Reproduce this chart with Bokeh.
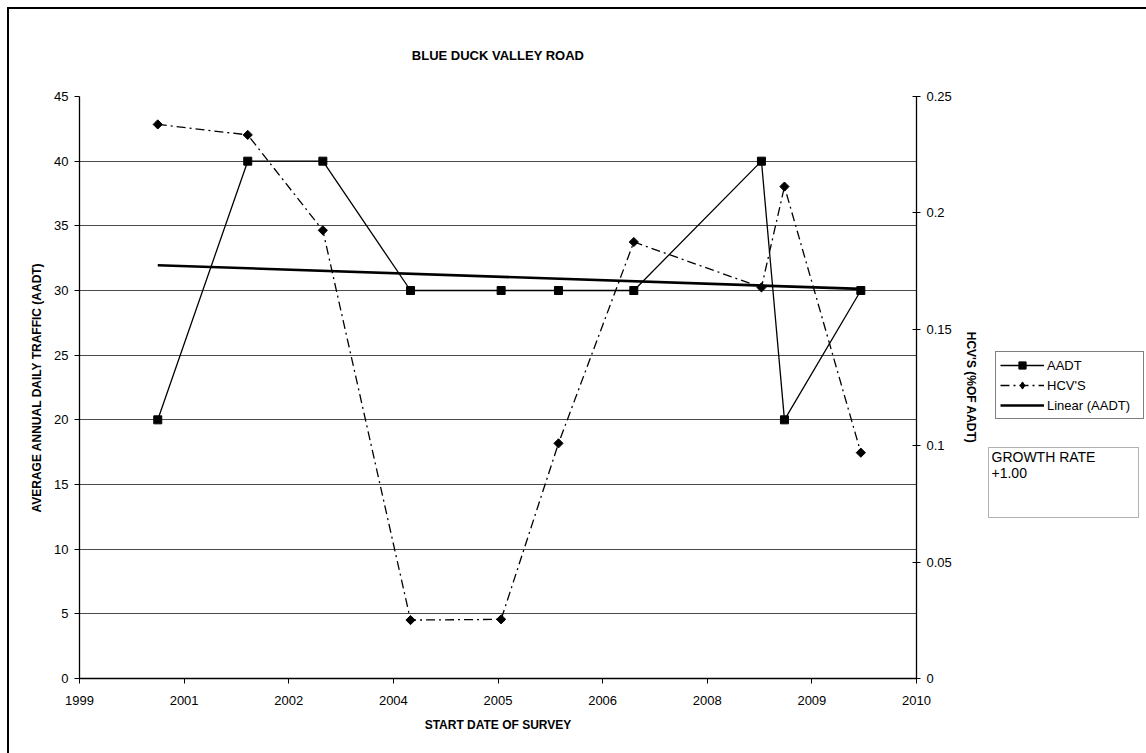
import math
import numpy as np
import pandas as pd
from bokeh.plotting import figure
from bokeh.layouts import row, column
from bokeh.models import (Range1d, LinearAxis, FixedTicker, DatetimeTickFormatter,
                          Legend, LegendItem, Label, BoxAnnotation, ColumnDataSource, Spacer)
from bokeh.embed import file_html
from bokeh.resources import INLINE

# ---------------- data ----------------
title_text = "BLUE DUCK VALLEY ROAD"
x_axis_title = "START DATE OF SURVEY"
left_axis_title = "AVERAGE ANNUAL DAILY TRAFFIC (AADT)"
right_axis_title = "HCV'S (%OF AADT)"

survey_dates = ["2000-12-14", "2002-02-17", "2003-02-11", "2004-04-05", "2005-06-12",
                "2006-03-13", "2007-03-08", "2008-11-07", "2009-02-25", "2010-02-25"]
aadt = [20, 40, 40, 30, 30, 30, 30, 40, 20, 30]
hcv = [0.238, 0.2335, 0.1925, 0.0251, 0.0254, 0.101, 0.1875, 0.168, 0.2113, 0.097]

x_axis_start = "1999-12-06"
x_tick_step_days = 500
x_tick_count = 9
x_tick_labels = ["1999", "2001", "2002", "2004", "2005", "2006", "2008", "2009", "2010"]

left_ticks = [0, 5, 10, 15, 20, 25, 30, 35, 40, 45]
right_ticks = [0, 0.05, 0.1, 0.15, 0.2, 0.25]
right_tick_labels = ["0", "0.05", "0.1", "0.15", "0.2", "0.25"]

legend_labels = ["AADT", "HCV'S", "Linear (AADT)"]
growth_lines = ["GROWTH RATE", "+1.00"]

FONT = "Liberation Sans"

# ---------------- derived ----------------
dates = pd.to_datetime(survey_dates)
start = pd.Timestamp(x_axis_start)
tick_dates = [start + pd.Timedelta(days=x_tick_step_days * i) for i in range(x_tick_count)]
tick_ms = [d.value / 1e6 for d in tick_dates]

days = np.array([(d - start).days for d in dates], dtype=float)
slope, intercept = np.polyfit(days, np.array(aadt, dtype=float), 1)
trend_x = [dates[0], dates[-1]]
trend_y = [intercept + slope * days[0], intercept + slope * days[-1]]

src = ColumnDataSource(dict(x=dates, aadt=aadt, hcv=hcv))
trend_src = ColumnDataSource(dict(x=trend_x, y=trend_y))

# ---------------- main figure ----------------
p = figure(width=971, height=744, output_backend="svg", toolbar_location=None,
           x_axis_type="datetime",
           x_range=Range1d(tick_ms[0], tick_ms[-1]), y_range=Range1d(0, 45),
           min_border_left=70, min_border_right=64, min_border_top=87, min_border_bottom=75)
p.extra_y_ranges = {"hcv": Range1d(0, 0.25)}
p.outline_line_color = None
p.background_fill_color = "white"
p.border_fill_color = "white"

p.title.text = title_text
p.title.align = "center"
p.title.text_font = FONT
p.title.text_font_size = "13px"
p.title.text_font_style = "bold"
p.title.text_color = "black"
p.title.standoff = 68

p.xgrid.visible = False
p.ygrid.ticker = FixedTicker(ticks=left_ticks)
p.ygrid.grid_line_color = "#4a4a4a"
p.ygrid.grid_line_width = 1

xa = p.below[0]
xa.ticker = FixedTicker(ticks=tick_ms)
xa.formatter = DatetimeTickFormatter(years="%Y", months="%Y", days="%Y", hours="%Y",
                                     minutes="%Y", seconds="%Y", milliseconds="%Y",
                                     microseconds="%Y", minsec="%Y", hourmin="%Y")
xa.major_label_overrides = {t: lab for t, lab in zip(tick_ms, x_tick_labels)}

ya = p.left[0]
ya.ticker = FixedTicker(ticks=left_ticks)

for ax in (xa, ya):
    ax.minor_tick_line_color = None
    ax.major_tick_in = 0
    ax.major_tick_out = 5
    ax.axis_line_color = "black"
    ax.axis_line_width = 1.3
    ax.major_tick_line_color = "black"
    ax.major_label_text_font = FONT
    ax.major_label_text_font_size = "13px"
    ax.major_label_text_color = "black"
    ax.axis_label_text_font = FONT
    ax.axis_label_text_font_size = "12px"
    ax.axis_label_text_font_style = "bold"
    ax.axis_label_text_color = "black"

xa.axis_label = x_axis_title
xa.major_label_standoff = 12
xa.axis_label_standoff = 10
ya.axis_label = left_axis_title
ya.major_label_standoff = 6
ya.axis_label_standoff = 7

ra = LinearAxis(y_range_name="hcv", axis_label=right_axis_title,
                ticker=FixedTicker(ticks=right_ticks),
                major_label_overrides={t: lab for t, lab in zip(right_ticks, right_tick_labels)})
ra.minor_tick_line_color = None
ra.major_tick_in = 4
ra.major_tick_out = 4
ra.axis_line_color = "black"
ra.axis_line_width = 1.3
ra.major_label_text_font = FONT
ra.major_label_text_font_size = "13px"
ra.major_label_text_color = "black"
ra.major_label_standoff = 6
ra.axis_label_text_font = FONT
ra.axis_label_text_font_size = "12px"
ra.axis_label_text_font_style = "bold"
ra.axis_label_text_color = "black"
ra.axis_label_standoff = 9
p.add_layout(ra, "right")

AADT_STYLE = dict(line_color="black", line_width=1.3)
HCV_STYLE = dict(line_color="black", line_width=1.3, line_dash="9 4 2 4")
TREND_STYLE = dict(line_color="black", line_width=2.6)
SQ_STYLE = dict(marker="square", size=8, fill_color="black", line_color="black")
DI_STYLE = dict(marker="square", size=6.5, angle=math.pi / 4,
                fill_color="black", line_color="black")
DI_LEGEND_STYLE = dict(marker="diamond", size=11, fill_color="black", line_color="black")

p.line("x", "aadt", source=src, **AADT_STYLE)
p.scatter("x", "aadt", source=src, **SQ_STYLE)
p.line("x", "hcv", source=src, y_range_name="hcv", **HCV_STYLE)
p.scatter("x", "hcv", source=src, y_range_name="hcv", **DI_STYLE)
p.line("x", "y", source=trend_src, **TREND_STYLE)

# ---------------- side panel (legend + growth box) ----------------
# Its frame is aligned with the main frame (page y 96..678); ranges are in page pixels.
s = figure(width=166, height=744, output_backend="svg", toolbar_location=None,
           x_range=Range1d(980, 1146), y_range=Range1d(678, 96),
           min_border_left=0, min_border_right=0, min_border_top=0, min_border_bottom=0)
s.axis.visible = False
s.grid.visible = False
s.outline_line_color = None
s.background_fill_color = "white"
s.border_fill_color = "white"

# same series, drawn here only to feed the legend (they fall outside this panel's ranges)
r1 = s.line("x", "aadt", source=src, **AADT_STYLE)
r1m = s.scatter("x", "aadt", source=src, **SQ_STYLE)
r2 = s.line("x", "hcv", source=src, **HCV_STYLE)
r2m = s.scatter("x", "hcv", source=src, **DI_LEGEND_STYLE)
r3 = s.line("x", "y", source=trend_src, **TREND_STYLE)

legend = Legend(items=[LegendItem(label=legend_labels[0], renderers=[r1, r1m]),
                       LegendItem(label=legend_labels[1], renderers=[r2, r2m]),
                       LegendItem(label=legend_labels[2], renderers=[r3])],
                location=(15, 259))
legend.label_text_font = FONT
legend.label_text_font_size = "13px"
legend.label_text_color = "black"
legend.glyph_width = 44
legend.glyph_height = 18
legend.label_height = 18
legend.label_width = 92
legend.label_standoff = 3
legend.spacing = 2
legend.padding = 4
legend.margin = 0
legend.border_line_color = "black"
legend.border_line_width = 1
legend.background_fill_color = "white"
legend.background_fill_alpha = 1
s.add_layout(legend, "center")

s.add_layout(BoxAnnotation(left=988, right=1138, top=447, bottom=517,
                           fill_color="white", fill_alpha=1, line_color="black", line_width=1))
for i, txt in enumerate(growth_lines):
    s.add_layout(Label(x=991, y=448 + 19 * i, text=txt, text_font=FONT, text_font_size="14px",
                       text_color="black", text_baseline="top", text_align="left"))

# ---------------- chart border (left and top edges) ----------------
top_border = Spacer(width=1139, height=2, styles={"background-color": "black"})
left_border = Spacer(width=2, height=744, styles={"background-color": "black"})

layout = column(
    Spacer(width=1146, height=7),
    row(Spacer(width=7, height=2), top_border, spacing=0),
    row(Spacer(width=7, height=744), left_border, p, s, spacing=0),
    spacing=0)

open("out.html", "w").write(file_html(layout, INLINE))
